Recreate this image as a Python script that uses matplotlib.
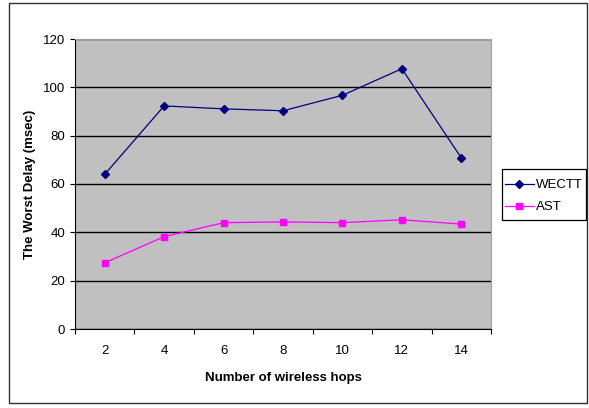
import matplotlib
matplotlib.use("Agg")
import matplotlib.pyplot as plt
from matplotlib.patches import Rectangle

hops = ["2", "4", "6", "8", "10", "12", "14"]
wectt = [64.0, 92.3, 91.1, 90.3, 96.7, 107.7, 70.8]
ast = [27.4, 38.2, 44.0, 44.3, 44.0, 45.2, 43.4]
y_ticks = [0, 20, 40, 60, 80, 100, 120]

plt.rcParams["font.family"] = ["Liberation Sans", "DejaVu Sans"]

W, H = 589, 408
fig = plt.figure(figsize=(W / 100, H / 100), dpi=100)
fig.patch.set_facecolor("white")


def px_rect(x0, y0, x1, y1, **kw):
    """Rectangle given in pixel coordinates measured from the top-left."""
    return Rectangle((x0 / W, 1 - y1 / H), (x1 - x0) / W, (y1 - y0) / H,
                     transform=fig.transFigure, fill=False, **kw)


# outer chart frame
fig.patches.append(px_rect(8.5, 3, 586.5, 403, edgecolor="#303030",
                           linewidth=1.0))

ax = fig.add_axes([75 / W, 1 - 329 / H, 416 / W, 290 / H])
ax.set_facecolor("#C0C0C0")

x = list(range(1, len(hops) + 1))
ax.plot(x, wectt, color="#000080", linewidth=0.9, marker="D", markersize=4.5,
        label="WECTT")
ax.plot(x, ast, color="#FF00FF", linewidth=0.9, marker="s", markersize=5,
        label="AST")

ax.set_xlim(0.5, len(hops) + 0.5)
ax.set_ylim(0, 120)
ax.set_yticks(y_ticks)
ax.set_yticklabels([str(v) for v in y_ticks], fontsize=9.5)
ax.yaxis.grid(True, color="black", linewidth=1.0)
ax.set_axisbelow(True)

# category boundaries carry the tick marks, centres carry the labels
ax.set_xticks([i + 0.5 for i in range(len(hops) + 1)])
ax.set_xticklabels([])
ax.set_xticks(x, minor=True)
ax.set_xticklabels(hops, minor=True, fontsize=9.5)
ax.tick_params(axis="x", which="major", direction="out", length=3.8,
               width=0.8)
ax.tick_params(axis="x", which="minor", length=0, pad=11.5)
ax.tick_params(axis="y", direction="out", length=3.8, width=0.8, pad=3.2)

for side in ("top", "right"):
    ax.spines[side].set_color("#A0A0A0")
    ax.spines[side].set_linewidth(0.8)
for side in ("left", "bottom"):
    ax.spines[side].set_color("black")
    ax.spines[side].set_linewidth(0.8)

ax.set_xlabel("Number of wireless hops", fontsize=9.5, fontweight="bold")
ax.xaxis.set_label_coords(0.5 + (283 - 283) / 416, (329 - 372) / 290)
ax.set_ylabel("The Worst Delay (msec)", fontsize=9.5, fontweight="bold")
ax.yaxis.set_label_coords((36 - 75) / 416, 0.5 + (216 - 185.5) / 290 * 0)

# legend box drawn separately so its padding can be set on each side
fig.patches.append(px_rect(501.7, 169.3, 585.7, 220, edgecolor="black",
                           linewidth=0.9))
ax.legend(loc="center left", bbox_to_anchor=(504.5 / W, 1 - 196.3 / H),
          bbox_transform=fig.transFigure, fontsize=9.5, frameon=False,
          handlelength=2.2, borderpad=0, borderaxespad=0,
          labelspacing=0.75, handletextpad=0.2)

fig.savefig("out.png", dpi=100)
